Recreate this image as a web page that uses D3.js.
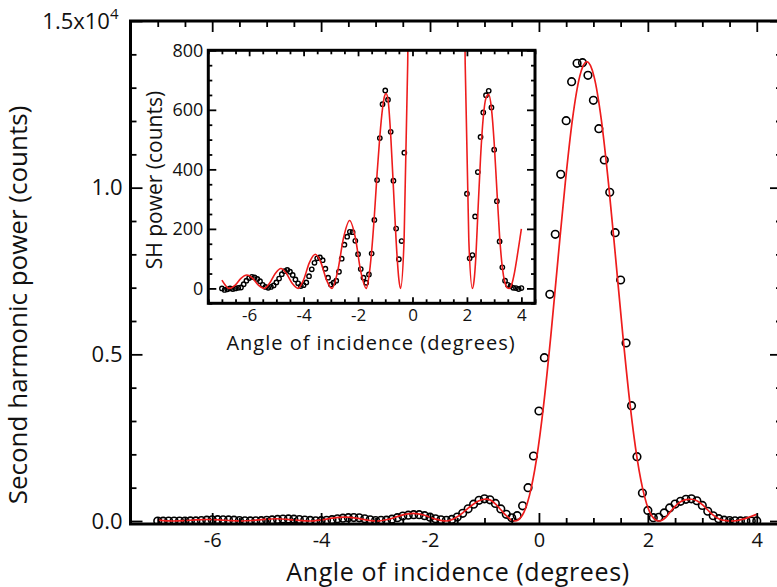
<!DOCTYPE html>
<html><head><meta charset="utf-8">
<script src="https://cdn.jsdelivr.net/npm/d3@7"></script>
<style>
body{margin:0;background:#fff}
svg{display:block}
text{font-family:"Open Sans",sans-serif;fill:#111}
</style>
</head><body>
<svg id="c" width="777" height="587"></svg>
<script>
// measured SH power (counts) vs angle of incidence (degrees)
const measured = [
[-7.0,0],[-6.9,-5],[-6.8,-3],[-6.7,0],[-6.6,-2],[-6.5,0],[-6.4,2],[-6.3,3],[-6.2,14],[-6.1,26],
[-6.0,35],[-5.9,39],[-5.8,37],[-5.7,32],[-5.6,24],[-5.5,12],[-5.4,5],[-5.3,2],[-5.2,5],[-5.1,10],
[-5.0,20],[-4.9,33],[-4.8,48],[-4.7,58],[-4.6,62],[-4.5,56],[-4.4,45],[-4.3,30],[-4.2,17],[-4.1,8],
[-4.0,11],[-3.9,20],[-3.8,41],[-3.7,64],[-3.6,86],[-3.5,101],[-3.4,104],[-3.3,95],[-3.2,66],[-3.1,36],
[-3.0,13],[-2.9,19],[-2.8,26],[-2.7,56],[-2.6,100],[-2.5,147],[-2.4,174],[-2.3,190],[-2.2,189],[-2.1,160],
[-2.0,115],[-1.9,65],[-1.8,36],[-1.7,19],[-1.6,47],[-1.5,117],[-1.4,230],[-1.3,364],[-1.2,505],[-1.1,619],
[-1.0,665],[-0.9,634],[-0.8,526],[-0.7,362],[-0.6,201],[-0.5,98],[-0.4,159],[-0.3,456],[-0.2,1000],[-0.1,1950],
[0.0,3300],[0.1,4900],[0.2,6800],[0.3,8601],[0.4,10401],[0.5,12009],[0.6,13179],[0.7,13731],[0.8,13749],[0.9,13371],
[1.0,12621],[1.1,11769],[1.2,10830],[1.3,9861],[1.4,8649],[1.5,7230],[1.6,5340],[1.7,3459],[1.8,1929],[1.9,840],
[2.0,318],[2.1,101],[2.2,112],[2.3,242],[2.4,391],[2.5,509],[2.6,591],[2.7,649],[2.8,664],[2.9,608],
[3.0,466],[3.1,293],[3.2,158],[3.3,71],[3.4,26],[3.5,12],[3.6,8],[3.7,2],[3.8,1],[3.9,-2],[4.0,1]
];
// fitted curve
const fitted = [
[-7.0,28],[-6.9,14],[-6.8,3],[-6.72,0],
[-6.51,11],[-6.3,34],[-6.08,45],[-5.87,34],[-5.66,11],[-5.45,0],
[-5.25,17],[-5.04,50],[-4.83,67],[-4.63,50],[-4.42,17],[-4.2,0],
[-4.0,29],[-3.79,86],[-3.57,115],[-3.36,86],[-3.16,29],[-2.96,0],
[-2.75,57],[-2.53,171],[-2.31,228],[-2.1,171],[-1.9,57],[-1.7,0],
[-1.6,40],[-1.5,125],[-1.4,245],[-1.3,386],[-1.2,510],[-1.1,605],[-1.03,645],[-0.97,655],[-0.9,635],
[-0.8,515],[-0.7,337],[-0.6,158],[-0.5,30],[-0.44,0],
[-0.308,165],[-0.176,754],[-0.044,1864],[0.088,3508],[0.22,5585],[0.352,7895],[0.484,10153],
[0.616,12059],[0.748,13332],[0.88,13780],[1.012,13332],[1.144,12059],[1.276,10153],[1.408,7895],
[1.54,5585],[1.672,3508],[1.804,1864],[1.936,754],[2.068,165],[2.2,0],
[2.26,25],[2.33,110],[2.4,250],[2.5,440],[2.6,575],[2.7,640],[2.8,652],[2.9,605],[3.0,490],
[3.1,330],[3.2,175],[3.3,70],[3.4,18],[3.48,2],[3.55,0],[3.65,15],[3.75,55],[3.85,110],[3.95,170],[4.0,200]
];
const xMajorTicks = [-6,-4,-2,0,2,4];
const xMinorTicks = [-7.5,-7,-6.5,-5.5,-5,-4.5,-3.5,-3,-2.5,-1.5,-1,-0.5,0.5,1,1.5,2.5,3,3.5,4.5];
const yMajorTicks = [0,5000,10000,15000];
const yMinorTicks = [1000,2000,3000,4000,6000,7000,8000,9000,11000,12000,13000,14000];
const yTickLabels = ["0.0","0.5","1.0","1.5x10"];
const insetYMajorTicks = [0,200,400,600,800];
const insetYMinorTicks = [-50,50,100,150,250,300,350,450,500,550,650,700,750];
const xTitle = "Angle of incidence (degrees)";
const yTitle = "Second harmonic power (counts)";
const insetYTitle = "SH power (counts)";

const svg = d3.select("#c");
const RED = "#ee1c1c";
const FONT = "Open Sans";

// ---------- main panel ----------
const M = {l:130.5, r:784, t:21, b:524};
const x = d3.scaleLinear().domain([-7.5,4.5]).range([M.l,M.r]);
const y = d3.scaleLinear().domain([-90,15000]).range([M.b,M.t]);

svg.append("clipPath").attr("id","mclip").append("rect")
  .attr("x",M.l).attr("y",M.t).attr("width",M.r-M.l).attr("height",M.b-M.t);

const mg = svg.append("g").attr("clip-path","url(#mclip)");
mg.selectAll("circle").data(measured).join("circle")
  .attr("cx",d=>x(d[0])).attr("cy",d=>y(d[1])).attr("r",3.8)
  .attr("fill","none").attr("stroke","#000").attr("stroke-width",1.6);
const lineMain = d3.line().x(d=>x(d[0])).y(d=>y(d[1])).curve(d3.curveMonotoneX);
mg.append("path").datum(fitted).attr("d",lineMain)
  .attr("fill","none").attr("stroke",RED).attr("stroke-width",1.7);

function styleAxis(g){
  g.select(".domain").remove();
  g.selectAll(".tick line").attr("stroke","#000").attr("stroke-width",1.8);
}
function styleText(size){
  return g=>g.selectAll("text").attr("font-size",size).attr("fill","#111").attr("font-family",FONT);
}
// bottom
svg.append("g").attr("transform",`translate(0,${M.b})`)
  .call(d3.axisBottom(x).tickValues(xMajorTicks).tickSize(-11).tickPadding(9).tickFormat(d=>String(d)))
  .call(styleAxis).call(styleText(20));
svg.append("g").attr("transform",`translate(0,${M.b})`)
  .call(d3.axisBottom(x).tickValues(xMinorTicks).tickSize(-6).tickFormat(""))
  .call(styleAxis);
// top
svg.append("g").attr("transform",`translate(0,${M.t})`)
  .call(d3.axisTop(x).tickValues(xMajorTicks).tickSize(-11).tickFormat(""))
  .call(styleAxis);
svg.append("g").attr("transform",`translate(0,${M.t})`)
  .call(d3.axisTop(x).tickValues(xMinorTicks).tickSize(-6).tickFormat(""))
  .call(styleAxis);
// left
const leftAx = svg.append("g").attr("transform",`translate(${M.l},0)`)
  .call(d3.axisLeft(y).tickValues(yMajorTicks).tickSize(-12).tickPadding(8)
     .tickFormat((d,i)=>yTickLabels[i]))
  .call(styleAxis).call(styleText(22));
leftAx.selectAll(".tick text").filter(d=>d===15000)
  .attr("dx",-4)
  .append("tspan").attr("font-size",15).attr("dy",-10).text("4");
svg.append("g").attr("transform",`translate(${M.l},0)`)
  .call(d3.axisLeft(y).tickValues(yMinorTicks).tickSize(-6).tickFormat(""))
  .call(styleAxis);
// right
svg.append("g").attr("transform",`translate(${M.r},0)`)
  .call(d3.axisRight(y).tickValues(yMajorTicks).tickSize(-14).tickFormat(""))
  .call(styleAxis);
svg.append("g").attr("transform",`translate(${M.r},0)`)
  .call(d3.axisRight(y).tickValues(yMinorTicks).tickSize(-8).tickFormat(""))
  .call(styleAxis);
// frame
svg.append("rect").attr("x",M.l).attr("y",M.t).attr("width",M.r-M.l).attr("height",M.b-M.t)
  .attr("fill","none").attr("stroke","#000").attr("stroke-width",3);

svg.append("text").attr("x",458).attr("y",581).attr("text-anchor","middle")
  .attr("font-size",25).attr("letter-spacing",0.6).text(xTitle);
svg.append("text").attr("transform","translate(27,305) rotate(-90)").attr("text-anchor","middle")
  .attr("font-size",26).text(yTitle);

// ---------- inset ----------
const I = {l:208.3, r:535, t:50.3, b:303.3};
const xi = d3.scaleLinear().domain([-7.5,4.5]).range([I.l,I.r]);
const yi = d3.scaleLinear().domain([-50,800]).range([I.b,I.t]);

svg.append("rect").attr("x",I.l).attr("y",I.t).attr("width",I.r-I.l).attr("height",I.b-I.t)
  .attr("fill","#fff");
svg.append("clipPath").attr("id","iclip").append("rect")
  .attr("x",I.l).attr("y",I.t).attr("width",I.r-I.l).attr("height",I.b-I.t);
const ig = svg.append("g").attr("clip-path","url(#iclip)");
ig.selectAll("circle").data(measured).join("circle")
  .attr("cx",d=>xi(d[0])).attr("cy",d=>yi(d[1])).attr("r",2.2)
  .attr("fill","none").attr("stroke","#000").attr("stroke-width",1.4);
const lineInset = d3.line().x(d=>xi(d[0])).y(d=>yi(d[1])).curve(d3.curveMonotoneX);
ig.append("path").datum(fitted).attr("d",lineInset)
  .attr("fill","none").attr("stroke",RED).attr("stroke-width",1.6);

svg.append("g").attr("transform",`translate(0,${I.b})`)
  .call(d3.axisBottom(xi).tickValues(xMajorTicks).tickSize(-6).tickPadding(6).tickFormat(d=>String(d)))
  .call(styleAxis).call(styleText(17));
svg.append("g").attr("transform",`translate(0,${I.b})`)
  .call(d3.axisBottom(xi).tickValues(xMinorTicks).tickSize(-4).tickFormat(""))
  .call(styleAxis);
svg.append("g").attr("transform",`translate(0,${I.t})`)
  .call(d3.axisTop(xi).tickValues(xMajorTicks).tickSize(-6).tickFormat(""))
  .call(styleAxis);
svg.append("g").attr("transform",`translate(0,${I.t})`)
  .call(d3.axisTop(xi).tickValues(xMinorTicks).tickSize(-4).tickFormat(""))
  .call(styleAxis);
svg.append("g").attr("transform",`translate(${I.l},0)`)
  .call(d3.axisLeft(yi).tickValues(insetYMajorTicks).tickSize(-8).tickPadding(5).tickFormat(d=>String(d)))
  .call(styleAxis).call(styleText(18));
svg.append("g").attr("transform",`translate(${I.l},0)`)
  .call(d3.axisLeft(yi).tickValues(insetYMinorTicks).tickSize(-4).tickFormat(""))
  .call(styleAxis);
svg.append("g").attr("transform",`translate(${I.r},0)`)
  .call(d3.axisRight(yi).tickValues(insetYMajorTicks).tickSize(-8).tickFormat(""))
  .call(styleAxis);
svg.append("g").attr("transform",`translate(${I.r},0)`)
  .call(d3.axisRight(yi).tickValues(insetYMinorTicks).tickSize(-4).tickFormat(""))
  .call(styleAxis);
svg.append("rect").attr("x",I.l).attr("y",I.t).attr("width",I.r-I.l).attr("height",I.b-I.t)
  .attr("fill","none").attr("stroke","#000").attr("stroke-width",3);

svg.append("text").attr("x",371).attr("y",350).attr("text-anchor","middle")
  .attr("font-size",20).attr("letter-spacing",1).text(xTitle);
svg.append("text").attr("transform","translate(162,180) rotate(-90)").attr("text-anchor","middle")
  .attr("font-size",21).text(insetYTitle);
</script>
</body></html>
